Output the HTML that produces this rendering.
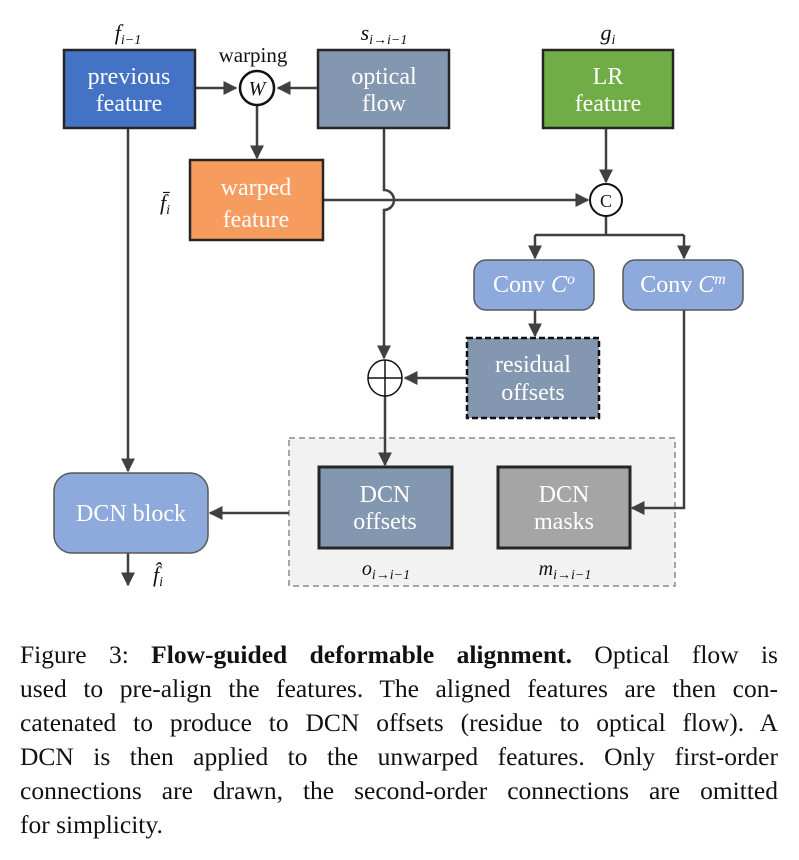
<!DOCTYPE html>
<html><head><style>
body{margin:0;background:#fff;width:799px;height:860px;overflow:hidden}
svg text{font-family:"Liberation Serif",serif}
.cap{position:absolute;left:20px;top:638px;width:758px;font-family:"Liberation Serif",serif;font-size:25.5px;line-height:34px;color:#111}
.cap div{text-align:justify;text-align-last:justify;white-space:nowrap}
.cap div.l{text-align-last:left}
</style></head><body>
<svg width="799" height="620" style="position:absolute;left:0;top:0">
<defs>
<marker id="b" viewBox="0 0 10 10" markerWidth="14" markerHeight="14" refX="9" refY="5" orient="auto" markerUnits="userSpaceOnUse"><path d="M0,0 L10,5 L0,10z" fill="#404040"/></marker></defs>
<rect x="289" y="438" width="386" height="148" fill="#f2f2f2" stroke="#a6a6a6" stroke-width="2" stroke-dasharray="6,4"/>
<g stroke="#404040" stroke-width="2.5" fill="none">
<path d="M195,88 H236" marker-end="url(#b)"/>
<path d="M318,88 H278" marker-end="url(#b)"/>
<path d="M257,105 V158" marker-end="url(#b)"/>
<path d="M128,128 V471" marker-end="url(#b)"/>
<path d="M384,128 V190 A10,10 0 0 1 384,210 V358" marker-end="url(#b)"/>
<path d="M323,200 H588" marker-end="url(#b)"/>
<path d="M606,128 V182" marker-end="url(#b)"/>
<path d="M606,216 V235 M535,235 H684" />
<path d="M535,235 V258" marker-end="url(#b)"/>
<path d="M684,235 V258" marker-end="url(#b)"/>
<path d="M535,310 V336" marker-end="url(#b)"/>
<path d="M467,378 H405" marker-end="url(#b)"/>
<path d="M385,396 V465" marker-end="url(#b)"/>
<path d="M684,310 V508 H632" marker-end="url(#b)"/>
<path d="M289,513 H210" marker-end="url(#b)"/>
<path d="M128,553 V585" marker-end="url(#b)"/>
</g>
<g stroke="#262626" stroke-width="2.5">
<rect x="64" y="50" width="131" height="78" fill="#4472C4"/>
<rect x="318" y="50" width="131" height="78" fill="#8497B0"/>
<rect x="543" y="50" width="130" height="78" fill="#70AD47"/>
<rect x="190" y="160" width="133" height="80" fill="#F79C5F"/>
<rect x="319" y="467" width="133" height="81" fill="#8497B0" stroke-width="3"/>
<rect x="498" y="467" width="132" height="81" fill="#A5A5A5" stroke-width="3"/>
</g>
<rect x="467" y="338" width="132" height="80" fill="#8497B0" stroke="#111" stroke-width="2.5" stroke-dasharray="6,3"/>
<g fill="#8EA9DB" stroke="#595959" stroke-width="1.5">
<rect x="474" y="260" width="120" height="50" rx="12"/>
<rect x="623" y="260" width="120" height="50" rx="12"/>
<rect x="54" y="473" width="154" height="80" rx="18"/>
</g>
<circle cx="257" cy="88" r="17" fill="#fff" stroke="#111" stroke-width="2.5"/>
<circle cx="606" cy="200" r="16" fill="#fff" stroke="#111" stroke-width="2"/>
<g stroke="#111" stroke-width="1.5" fill="#fff"><ellipse cx="385" cy="378" rx="17" ry="18"/><path d="M368,378 H402 M385,360 V396"/></g>
<g fill="#fff" font-size="24" text-anchor="middle">
<text x="129" y="84">previous</text><text x="129" y="111">feature</text>
<text x="384" y="84">optical</text><text x="384" y="111">flow</text>
<text x="608" y="84">LR</text><text x="608" y="111">feature</text>
<text x="256" y="195">warped</text><text x="256" y="227">feature</text>
<text x="534" y="292">Conv <tspan font-style="italic">C</tspan><tspan dy="-8" font-size="16" font-style="italic">o</tspan></text>
<text x="683" y="292">Conv <tspan font-style="italic">C</tspan><tspan dy="-8" font-size="16" font-style="italic">m</tspan></text>
<text x="533" y="372">residual</text><text x="533" y="400">offsets</text>
<text x="385" y="502">DCN</text><text x="385" y="529">offsets</text>
<text x="564" y="502">DCN</text><text x="564" y="529">masks</text>
<text x="131" y="521">DCN block</text>
</g>
<g fill="#111" text-anchor="middle" font-style="italic">
<text x="128" y="40" font-size="22">f<tspan font-size="14" dy="4">i−1</tspan></text>
<text x="384" y="40" font-size="22">s<tspan font-size="14" dy="4">i→i−1</tspan></text>
<text x="608" y="40" font-size="22">g<tspan font-size="14" dy="4">i</tspan></text>
<text x="165" y="210" font-size="22">f̄<tspan font-size="14" dy="4">i</tspan></text>
<text x="257" y="95" font-size="20">W</text>
<text x="386" y="575" font-size="20">o<tspan font-size="14" dy="4">i→i−1</tspan></text>
<text x="565" y="575" font-size="20">m<tspan font-size="14" dy="4">i→i−1</tspan></text>
<text x="158" y="582" font-size="22">f̂<tspan font-size="14" dy="4">i</tspan></text>
</g>
<text x="253" y="62" font-size="21" fill="#111" text-anchor="middle">warping</text>
<text x="606" y="207" font-size="18" fill="#111" text-anchor="middle">C</text>
</svg>
<div class="cap">
<div>Figure 3: <b>Flow-guided deformable alignment.</b> Optical flow is</div>
<div>used to pre-align the features. The aligned features are then con-</div>
<div>catenated to produce to DCN offsets (residue to optical flow). A</div>
<div>DCN is then applied to the unwarped features. Only first-order</div>
<div>connections are drawn, the second-order connections are omitted</div>
<div class="l">for simplicity.</div>
</div>
</body></html>
